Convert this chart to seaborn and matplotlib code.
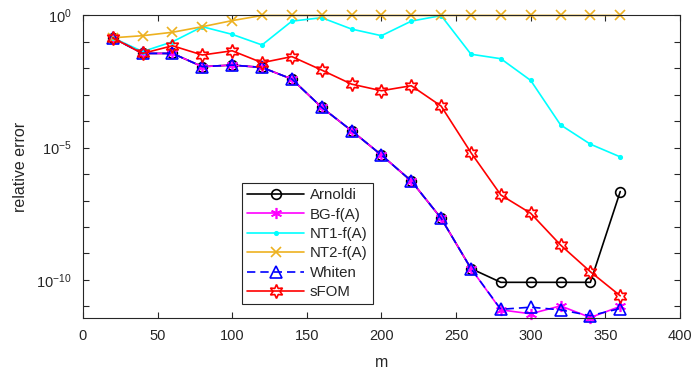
import numpy as np
import pandas as pd
import matplotlib
matplotlib.use("Agg")
import matplotlib.pyplot as plt
import seaborn as sns
from matplotlib.ticker import FixedLocator, NullFormatter, LogFormatterSciNotation

m = [20, 40, 60, 80, 100, 120, 140, 160, 180, 200, 220, 240, 260, 280, 300, 320, 340, 360]

# log10 of relative error
arnoldi_log = [-0.85, -1.44, -1.44, -1.94, -1.88, -1.97, -2.41, -3.48, -4.36, -5.28,
               -6.26, -7.67, -9.57, -10.09, -10.09, -10.09, -10.09, -6.66]
bg_log = [-0.85, -1.44, -1.44, -1.94, -1.88, -1.97, -2.41, -3.48, -4.36, -5.28,
          -6.26, -7.67, -9.57, -11.13, -11.28, -10.98, -11.42, -11.0]
nt1_log = [-0.85, -1.37, -1.0, -0.43, -0.72, -1.12, -0.22, -0.09, -0.52, -0.77,
           -0.22, -0.01, -1.47, -1.64, -2.46, -4.14, -4.87, -5.35]
nt2_log = [-0.85, -0.77, -0.64, -0.43, -0.2, -0.005, -0.005, -0.005, -0.005, -0.005,
           -0.005, -0.005, -0.005, -0.005, -0.005, -0.005, -0.005, -0.005]
whiten_log = [-0.85, -1.44, -1.44, -1.94, -1.88, -1.97, -2.41, -3.48, -4.36, -5.28,
              -6.26, -7.67, -9.57, -11.11, -11.03, -11.13, -11.35, -11.08]
sfom_log = [-0.85, -1.44, -1.15, -1.5, -1.34, -1.79, -1.56, -2.07, -2.6, -2.85,
            -2.66, -3.43, -5.19, -6.79, -7.48, -8.68, -9.69, -10.6]

series_names = ["Arnoldi", "BG-f(A)", "NT1-f(A)", "NT2-f(A)", "Whiten", "sFOM"]
series_vals = [arnoldi_log, bg_log, nt1_log, nt2_log, whiten_log, sfom_log]

sns.set_style("ticks")
plt.rcParams["font.family"] = ["Liberation Sans", "DejaVu Sans"]
plt.rcParams["mathtext.fontset"] = "custom"
plt.rcParams["mathtext.rm"] = "Liberation Sans"
plt.rcParams["mathtext.it"] = "Liberation Sans"

fig = plt.figure(figsize=(6.91, 3.70), dpi=100)
ax = fig.add_axes([0.120, 0.1397, 0.864, 0.8189])

hexagram = (6, 1, 0)
styles = {
    "Arnoldi": dict(color="black", marker="o", markersize=7, markerfacecolor="none", linestyle="-"),
    "BG-f(A)": dict(color="magenta", marker=(6, 2, 0), markersize=8, linestyle="-"),
    "NT1-f(A)": dict(color="cyan", marker=".", markersize=5, linestyle="-"),
    "NT2-f(A)": dict(color="#EDB120", marker="x", markersize=7, linestyle="-"),
    "Whiten": dict(color="blue", marker="^", markersize=8, markerfacecolor="none", linestyle=(0, (5, 3))),
    "sFOM": dict(color="red", marker=hexagram, markersize=10, markerfacecolor="none", linestyle="-"),
}

for name, vals in zip(series_names, series_vals):
    df = pd.DataFrame({"m": m, "err": np.power(10.0, np.array(vals))})
    st = styles[name]
    sns.lineplot(data=df, x="m", y="err", ax=ax, label=name, linewidth=1.2,
                 markeredgewidth=1.2, markeredgecolor=st["color"], clip_on=False, **st)

ax.set_yscale("log")
ax.set_xlim(0, 400)
ax.set_ylim(10 ** -11.45, 1)
ax.set_xticks(np.arange(0, 401, 50))
ax.yaxis.set_major_locator(FixedLocator([1e-10, 1e-5, 1e0]))
ax.yaxis.set_minor_locator(FixedLocator([10.0 ** k for k in range(-11, 1)]))
ax.yaxis.set_minor_formatter(NullFormatter())
ax.yaxis.set_major_formatter(LogFormatterSciNotation())
ax.tick_params(which="both", direction="in", top=True, right=True, length=4,
               width=0.8, colors="#262626", labelsize=10.5, labelcolor="#262626")
ax.tick_params(axis="x", pad=8)
ax.tick_params(axis="y", pad=8)
for sp in ax.spines.values():
    sp.set_color("#262626")
    sp.set_linewidth(0.8)
ax.set_xlabel("m", fontsize=11.5, color="#262626", labelpad=8)
ax.set_ylabel("relative error", fontsize=11.5, color="#262626", labelpad=6)

leg = ax.legend(loc="lower left", bbox_to_anchor=(0.254, 0.021), fontsize=10.8,
                handlelength=3.8, handletextpad=0.35, labelspacing=0.36,
                borderpad=0.35, frameon=True, fancybox=False, framealpha=1)
leg.get_frame().set_edgecolor("#262626")
leg.get_frame().set_linewidth(0.8)

fig.savefig("out.png", dpi=100)
